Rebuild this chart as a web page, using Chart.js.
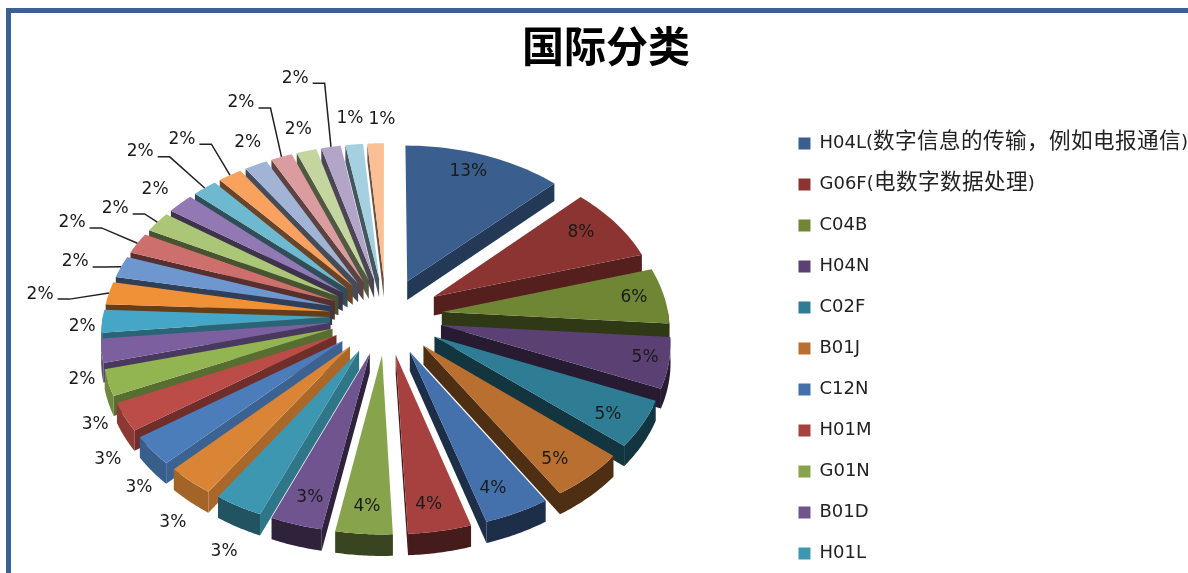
<!DOCTYPE html>
<html>
<head>
<meta charset="utf-8">
<title>国际分类</title>
<script src="https://cdn.jsdelivr.net/npm/chart.js@4"></script>
<style>
@font-face { font-family: 'CJKBig'; src: local('Noto Sans CJK SC'); size-adjust: 120%; }
html, body { margin: 0; padding: 0; background: #fff; overflow: hidden; }
#wrap { position: relative; width: 1188px; height: 573px; overflow: hidden; }
#frame { position: absolute; left: 6px; top: 8px; width: 1182px; height: 565px; border-left: 5px solid #3a618f; border-top: 5px solid #3a618f; box-sizing: border-box; }
canvas { position: absolute; left: 0; top: 0; }
</style>
</head>
<body>
<div id="wrap">
  <div id="frame"></div>
  <canvas id="myChart" width="1188" height="573"></canvas>
</div>
<script>
// only the first 11 names can be read, the rest of the legend is cut off
const categories = ['H04L(数字信息的传输，例如电报通信)', 'G06F(电数字数据处理)', 'C04B', 'H04N', 'C02F', 'B01J', 'C12N', 'H01M', 'G01N', 'B01D', 'H01L'];
const shares = [12.6, 7.8, 5.8, 5.2, 4.8, 4.9, 4.2, 4.0, 3.6, 3.3, 3.1, 3.05, 3.0, 2.9, 2.7, 2.45, 2.35, 2.35, 2.25, 2.2, 2.15, 2.1, 1.95, 1.9, 1.8, 1.7, 1.6, 1.55, 1.4, 1.3];
const sliceColors = ['#3a5f8f', '#8c3431', '#6f8735', '#5a4073', '#2e7d95', '#b96f30', '#4470ab', '#a64140', '#87a34b', '#6f5490', '#3e97b0', '#d98535', '#4b7dba', '#bb4c48', '#93b551', '#7c5f9f', '#46a6c7', '#f09138', '#6f97cf', '#cd6f6d', '#abc677', '#9279b4', '#6fb9d0', '#f9a15f', '#a1b4d6', '#da9c9e', '#c4d5a0', '#b2a5c7', '#a5d0e0', '#fbbf96'];

// where each percent label sits: degrees clockwise from the top, and distance (1 = outer edge with explode)
const labelAngle = [21.3, 57.8, 83.9, 103.1, 123.2, 141.2, 157.1, 171.2, 183.9, 196, 205.1, 215.1, 224.4, 232.8, 241.2, 252.9, 267, 275.3, 284.3, 293.5, 300.1, 308.7, 314.4, 321.8, 331.4, 335.1, 342.2, 345.4, 352.9, 359.2];
const labelDist = [0.877, 0.858, 0.891, 0.917, 0.884, 0.876, 0.879, 0.887, 0.888, 0.88, 1.18, 1.164, 1.13, 1.135, 1.10, 1.082, 1.068, 1.244, 1.172, 1.282, 1.183, 1.132, 1.35, 1.306, 1.14, 1.397, 1.142, 1.488, 1.168, 1.153];
const leaderSlices = [17, 18, 19, 20, 22, 23, 25, 27];

// tilted view of the pie
const view = { cx: 386, cy: 316, rx: 283, ry: 193, persp: 0.117, depth: 19 };

function project(u, v) {
    var w = 1 / (1 - view.persp * v);
    return [view.cx + u * view.rx * w, view.cy + v * view.ry * w];
}

function shade(hex, f) {
    var r = parseInt(hex.substr(1, 2), 16), g = parseInt(hex.substr(3, 2), 16), b = parseInt(hex.substr(5, 2), 16);
    return 'rgb(' + Math.round(r * f) + ',' + Math.round(g * f) + ',' + Math.round(b * f) + ')';
}

function radialShade(deg) {
    if (deg < 60) return 0.6;
    if (deg < 200) return 0.42;
    if (deg < 240) return 0.78;
    if (deg < 270) return 0.6;
    return 0.42;
}

function rimShade(deg) {
    if (deg < 200) return 0.42;
    if (deg < 215) return 0.55;
    return 0.75;
}

function poly(ctx, pts, color) {
    ctx.fillStyle = color;
    ctx.beginPath();
    pts.forEach(function (p, i) {
        if (i === 0) ctx.moveTo(p[0], p[1]);
        else ctx.lineTo(p[0], p[1]);
    });
    ctx.closePath();
    ctx.fill();
}

// slice geometry comes from the arc elements the library laid out
function sliceInfo(arc, i) {
    var p = arc.getProps(['startAngle', 'endAngle', 'outerRadius']);
    var off = arc.options.offset;
    var full = p.outerRadius + off;
    var mid = (p.startAngle + p.endAngle) / 2;
    return {
        index: i, start: p.startAngle, end: p.endAngle, mid: mid,
        r: p.outerRadius / full,
        ox: off / full * Math.cos(mid),
        oy: off / full * Math.sin(mid),
        deg: (mid + Math.PI / 2) * 180 / Math.PI
    };
}

function rimPoint(s, a) {
    return project(s.ox + s.r * Math.cos(a), s.oy + s.r * Math.sin(a));
}

function down(p) {
    var w = 1 + (p[1] - view.cy) / view.ry * view.persp;
    return [p[0], p[1] + view.depth * w];
}

function drawSlice(ctx, s) {
    var color = sliceColors[s.index];
    var tip = project(s.ox, s.oy);
    var a = rimPoint(s, s.start), b = rimPoint(s, s.end);
    var steps = 24, top = [], i, t;

    // cut faces
    if (Math.cos(s.start) < 0) poly(ctx, [tip, a, down(a), down(tip)], shade(color, radialShade(s.deg)));
    if (Math.cos(s.end) > 0) poly(ctx, [tip, b, down(b), down(tip)], shade(color, radialShade(s.deg)));

    // rim, only the part facing the viewer
    var rimTop = [];
    for (i = 0; i <= steps; i++) {
        t = s.start + (s.end - s.start) * i / steps;
        if (Math.sin(t) > -0.02) rimTop.push(rimPoint(s, t));
    }
    if (rimTop.length > 1) poly(ctx, rimTop.concat(rimTop.slice().reverse().map(down)), shade(color, rimShade(s.deg)));

    // top face
    top.push(tip);
    for (i = 0; i <= steps; i++) top.push(rimPoint(s, s.start + (s.end - s.start) * i / steps));
    poly(ctx, top, color);
}

const pie3d = {
    id: 'pie3d',
    beforeDatasetDraw(chart, args) {
        var ctx = chart.ctx;
        var slices = args.meta.data.map(sliceInfo);
        slices.slice().sort(function (p, q) {
            return Math.sin(p.mid) - Math.sin(q.mid);
        }).forEach(function (s) {
            drawSlice(ctx, s);
        });

        var total = shares.reduce(function (x, y) { return x + y; }, 0);
        ctx.font = '17px "DejaVu Sans"';
        ctx.textAlign = 'center';
        ctx.textBaseline = 'middle';
        slices.forEach(function (s) {
            var a = labelAngle[s.index] * Math.PI / 180;
            var pos = project(labelDist[s.index] * Math.sin(a), -labelDist[s.index] * Math.cos(a));
            var text = Math.round(shares[s.index] / total * 100) + '%';
            if (leaderSlices.indexOf(s.index) >= 0) {
                var halfW = ctx.measureText(text).width / 2;
                var end = rimPoint(s, s.mid);
                ctx.strokeStyle = '#222';
                ctx.lineWidth = 1.5;
                ctx.beginPath();
                ctx.moveTo(pos[0] + halfW + 4, pos[1] + 5);
                ctx.lineTo(pos[0] + halfW + 16, pos[1] + 5);
                ctx.lineTo(end[0], end[1]);
                ctx.stroke();
            }
            ctx.fillStyle = '#1a1a1a';
            ctx.fillText(text, pos[0], pos[1]);
        });
        return false;
    }
};

function build() {
    new Chart(document.getElementById('myChart'), {
        type: 'pie',
        data: {
            labels: shares.map(function (v, i) { return categories[i] || ''; }),
            datasets: [{
                data: shares,
                backgroundColor: sliceColors,
                borderWidth: 0,
                offset: 51
            }]
        },
        plugins: [pie3d],
        options: {
            responsive: false,
            animation: false,
            // negative padding lets the legend run to the page edge and past the bottom
            layout: { padding: { left: 14, right: -10, bottom: -12.5 } },
            plugins: {
                title: {
                    display: true,
                    text: '国际分类',
                    color: '#000',
                    font: { family: '"Noto Sans CJK SC"', size: 42, weight: '700' },
                    padding: { top: 21, bottom: 39 }
                },
                legend: {
                    position: 'right',
                    align: 'end',
                    labels: {
                        boxWidth: 12,
                        boxHeight: 12,
                        padding: 23,
                        color: '#222',
                        font: { family: '"DejaVu Sans", "CJKBig"', size: 18 },
                        filter: function (item) { return item.text !== ''; }
                    }
                },
                tooltip: { enabled: true }
            }
        }
    });
}

document.fonts.load('18px CJKBig', '数').then(build, build);
</script>
</body>
</html>
